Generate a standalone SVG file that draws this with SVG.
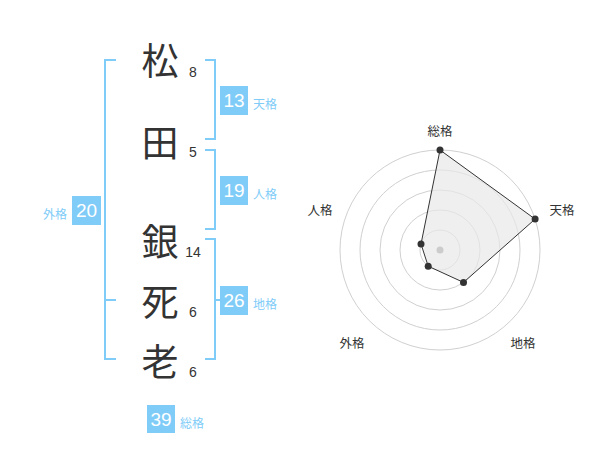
<svg xmlns="http://www.w3.org/2000/svg" width="600" height="470" viewBox="0 0 600 470">
<style>
.ch{font-family:"Noto Sans CJK JP","Noto Sans CJK SC",sans-serif;font-size:37px;fill:#333;text-anchor:middle;dominant-baseline:central}
.num{font-family:"Liberation Sans",Arial,sans-serif;font-size:14px;fill:#333;text-anchor:middle}
.br{fill:none;stroke:#80ccf8;stroke-width:2}
.box{fill:#80ccf8}
.bn{font-family:"Liberation Sans",Arial,sans-serif;font-size:19px;fill:#fff;text-anchor:middle;dominant-baseline:central}
.lb{font-family:"Noto Sans CJK JP","Noto Sans CJK SC",sans-serif;font-size:12px;fill:#80ccf8;dominant-baseline:central}
.ring{fill:none;stroke:#d0d0d0;stroke-width:1}
.rl{font-family:"Noto Sans CJK JP","Noto Sans CJK SC",sans-serif;font-size:12.5px;fill:#333;text-anchor:middle;dominant-baseline:central}
.pt{fill:#333}
</style>
<rect width="600" height="470" fill="#fff"/>
<g id="connectors">
<path class="br" d="M116,60 H105 V359 H116 M105,300 H116"/>
<path class="br" d="M205,60 H215 V139 H205"/>
<path class="br" d="M205,150 H215 V229 H205"/>
<path class="br" d="M205,239 H215 V359 H205 M215,300 H222"/>
</g>
<g id="char1"><text class="ch" x="160" y="59">松</text><text class="num" x="193" y="77">8</text></g>
<g id="char2"><text class="ch" x="160" y="141">田</text><text class="num" x="193" y="157">5</text></g>
<g id="char3"><text class="ch" x="160" y="240">銀</text><text class="num" x="193" y="257">14</text></g>
<g id="char4"><text class="ch" x="160" y="300">死</text><text class="num" x="193" y="317">6</text></g>
<g id="char5"><text class="ch" x="160" y="360">老</text><text class="num" x="193" y="377">6</text></g>
<g id="tenkaku"><rect class="box" x="220" y="86" width="28" height="29"/><text class="bn" x="234" y="100.5">13</text><text class="lb" x="253" y="103">天格</text></g>
<g id="jinkaku"><rect class="box" x="220" y="176" width="28" height="29"/><text class="bn" x="234" y="190.5">19</text><text class="lb" x="253" y="193">人格</text></g>
<g id="chikaku"><rect class="box" x="220" y="286" width="28" height="29"/><text class="bn" x="234" y="300.5">26</text><text class="lb" x="253" y="303">地格</text></g>
<g id="gaikaku"><rect class="box" x="72" y="196" width="29" height="29"/><text class="bn" x="86.5" y="210.5">20</text><text class="lb" x="67" y="213" text-anchor="end">外格</text></g>
<g id="soukaku"><rect class="box" x="147" y="405" width="28" height="28"/><text class="bn" x="161" y="419">39</text><text class="lb" x="180" y="422">総格</text></g>
<g id="radar">
<circle class="ring" cx="440" cy="250" r="20"/>
<circle class="ring" cx="440" cy="250" r="40"/>
<circle class="ring" cx="440" cy="250" r="60"/>
<circle class="ring" cx="440" cy="250" r="80"/>
<circle class="ring" cx="440" cy="250" r="100"/>
<polygon points="440,150 535.1,219.1 463.5,282.4 428.2,266.2 421,244" fill="#e8e8e8" fill-opacity="0.7" stroke="#333" stroke-width="1"/>
<circle cx="440" cy="250" r="3.5" fill="#ccc"/>
<circle class="pt" cx="440" cy="150" r="3.5"/>
<circle class="pt" cx="535.1" cy="219.1" r="3.5"/>
<circle class="pt" cx="463.5" cy="282.4" r="3.5"/>
<circle class="pt" cx="428.2" cy="266.2" r="3.5"/>
<circle class="pt" cx="421" cy="244" r="3.5"/>
<text class="rl" x="440" y="130">総格</text>
<text class="rl" x="562" y="209">天格</text>
<text class="rl" x="523" y="342">地格</text>
<text class="rl" x="352" y="342">外格</text>
<text class="rl" x="320" y="209">人格</text>
</g>
</svg>
